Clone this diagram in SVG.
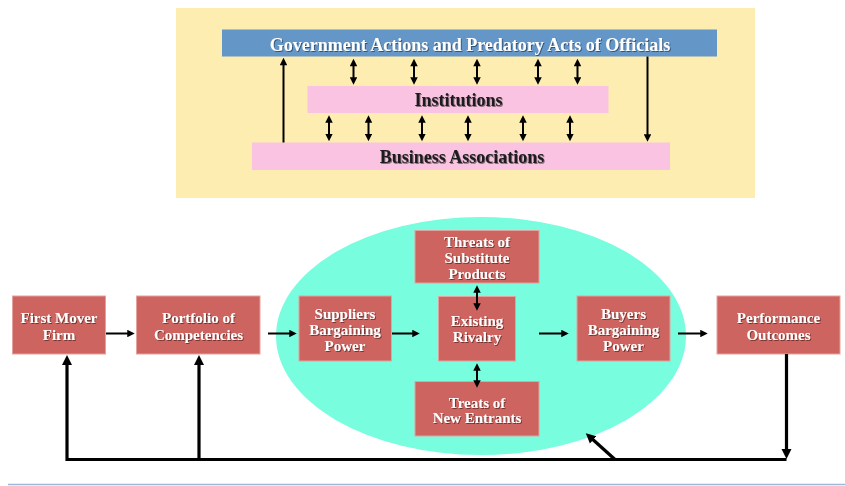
<svg xmlns="http://www.w3.org/2000/svg" width="845" height="486" viewBox="0 0 845 486">
  <style>
    .bar-blue { fill: #6496C8; }
    .bar-pink { fill: #F9C3E1; }
    .box { fill: #CD645F; stroke: #E3A29D; stroke-width: 1; }
    .t { font-family: "Liberation Serif", "Times New Roman", serif; font-weight: bold; text-anchor: middle; }
    .t-top { font-size: 18px; fill: #1E1E1E; filter: url(#shadow); }
    .t-top-w { font-size: 18px; fill: #FFFFFF; filter: url(#shadow); }
    .t-box { font-size: 15px; fill: #FFFFFF; filter: url(#shadow); }
    .ln { fill: none; stroke: #000; stroke-width: 2; }
    .ln-heavy { fill: none; stroke: #000; stroke-width: 3.2; }
    .a-small { marker-end: url(#ah); }
    .a-both { marker-start: url(#ah); marker-end: url(#ah); }
    .a-big { marker-end: url(#ahBig); }
  </style>
  <defs>
    <filter id="shadow" x="-10%" y="-20%" width="120%" height="150%">
      <feDropShadow dx="1" dy="1" stdDeviation="0.6" flood-color="#000" flood-opacity="0.45"/>
    </filter>
    <!-- arrowheads: tip sits a few px beyond the line end -->
    <marker id="ah" viewBox="0 0 10 10" refX="5" refY="5" markerWidth="8" markerHeight="7.5" markerUnits="userSpaceOnUse" orient="auto-start-reverse">
      <path d="M0,0 L10,5 L0,10 z" fill="#000"/>
    </marker>
    <marker id="ahBig" viewBox="0 0 10 10" refX="5" refY="5" markerWidth="10" markerHeight="11.5" markerUnits="userSpaceOnUse" orient="auto-start-reverse">
      <path d="M0,0 L10,5 L0,10 z" fill="#000"/>
    </marker>
  </defs>

  <rect width="845" height="486" fill="#FFFFFF"/>

  <!-- upper panel: government / institutions / business associations -->
  <rect id="upper-panel" x="176" y="8" width="579" height="190" fill="#FDEDB0"/>

  <g id="government">
    <rect class="bar-blue" x="222" y="29.5" width="495" height="27"/>
    <text class="t t-top-w" x="470" y="50.5">Government Actions and Predatory Acts of Officials</text>
  </g>
  <g id="institutions">
    <rect class="bar-pink" x="307.5" y="86" width="301" height="27"/>
    <text class="t t-top" x="458.5" y="105.5">Institutions</text>
  </g>
  <g id="business-associations">
    <rect class="bar-pink" x="252" y="142.5" width="418" height="27.5"/>
    <text class="t t-top" x="462" y="162.5">Business Associations</text>
  </g>

  <g id="upper-connectors">
    <line class="ln a-small" x1="283.5" y1="142.5" x2="283.5" y2="61.5"/>
    <line class="ln a-small" x1="647.5" y1="56.5" x2="647.5" y2="138"/>
    <line class="ln a-both" x1="353.5" y1="62.5" x2="353.5" y2="81"/>
    <line class="ln a-both" x1="414" y1="62.5" x2="414" y2="81"/>
    <line class="ln a-both" x1="477" y1="62.5" x2="477" y2="81"/>
    <line class="ln a-both" x1="538" y1="62.5" x2="538" y2="81"/>
    <line class="ln a-both" x1="577.5" y1="62.5" x2="577.5" y2="81"/>
    <line class="ln a-both" x1="329" y1="119" x2="329" y2="137.5"/>
    <line class="ln a-both" x1="368.5" y1="119" x2="368.5" y2="137.5"/>
    <line class="ln a-both" x1="422" y1="119" x2="422" y2="137.5"/>
    <line class="ln a-both" x1="468" y1="119" x2="468" y2="137.5"/>
    <line class="ln a-both" x1="523" y1="119" x2="523" y2="137.5"/>
    <line class="ln a-both" x1="570" y1="119" x2="570" y2="137.5"/>
  </g>

  <!-- five forces area -->
  <ellipse id="industry" cx="481" cy="336" rx="205" ry="119" fill="#79FDDF"/>

  <g id="first-mover-firm">
    <rect class="box" x="12.5" y="296" width="93" height="58"/>
    <text class="t t-box" x="59" y="323">First Mover</text>
    <text class="t t-box" x="59" y="339.5">Firm</text>
  </g>
  <g id="portfolio">
    <rect class="box" x="136.5" y="296" width="123.5" height="58"/>
    <text class="t t-box" x="198.5" y="323">Portfolio of</text>
    <text class="t t-box" x="198.5" y="339.5">Competencies</text>
  </g>
  <g id="suppliers">
    <rect class="box" x="299" y="296" width="92.5" height="65"/>
    <text class="t t-box" x="345" y="319">Suppliers</text>
    <text class="t t-box" x="345" y="335">Bargaining</text>
    <text class="t t-box" x="345" y="351">Power</text>
  </g>
  <g id="substitutes">
    <rect class="box" x="415" y="230.5" width="124" height="52.5"/>
    <text class="t t-box" x="477" y="247">Threats of</text>
    <text class="t t-box" x="477" y="263">Substitute</text>
    <text class="t t-box" x="477" y="279">Products</text>
  </g>
  <g id="rivalry">
    <rect class="box" x="438.5" y="296.5" width="77" height="64.5"/>
    <text class="t t-box" x="477" y="326">Existing</text>
    <text class="t t-box" x="477" y="342">Rivalry</text>
  </g>
  <g id="new-entrants">
    <rect class="box" x="415" y="381.5" width="124" height="54.5"/>
    <text class="t t-box" x="477" y="407.5">Treats of</text>
    <text class="t t-box" x="477" y="423">New Entrants</text>
  </g>
  <g id="buyers">
    <rect class="box" x="577" y="296" width="93" height="65"/>
    <text class="t t-box" x="623.5" y="319">Buyers</text>
    <text class="t t-box" x="623.5" y="335">Bargaining</text>
    <text class="t t-box" x="623.5" y="351">Power</text>
  </g>
  <g id="performance">
    <rect class="box" x="717" y="296" width="123" height="58"/>
    <text class="t t-box" x="778.5" y="323">Performance</text>
    <text class="t t-box" x="778.5" y="339.5">Outcomes</text>
  </g>

  <g id="lower-connectors">
    <line class="ln a-small" x1="106" y1="333.5" x2="131" y2="333.5"/>
    <line class="ln a-small" x1="268" y1="333.5" x2="293" y2="333.5"/>
    <line class="ln a-small" x1="392" y1="333.5" x2="416" y2="333.5"/>
    <line class="ln a-small" x1="539" y1="333.5" x2="565" y2="333.5"/>
    <line class="ln a-small" x1="678" y1="333.5" x2="704" y2="333.5"/>
    <line class="ln a-both" x1="477" y1="289" x2="477" y2="307"/>
    <line class="ln a-both" x1="477" y1="367" x2="477" y2="384"/>
    <!-- feedback loop -->
    <path class="ln-heavy" d="M67,459.5 H786.5"/>
    <line class="ln-heavy a-big" x1="67" y1="461" x2="67" y2="360"/>
    <line class="ln-heavy a-big" x1="199" y1="459.5" x2="199" y2="360"/>
    <line class="ln-heavy a-big" x1="786.5" y1="354" x2="786.5" y2="454"/>
    <line class="ln-heavy a-big" x1="615" y1="459.5" x2="589.5" y2="436.5"/>
  </g>

  <line x1="8" y1="484.5" x2="845" y2="484.5" stroke="#9DB9DA" stroke-width="1.5"/>
</svg>
